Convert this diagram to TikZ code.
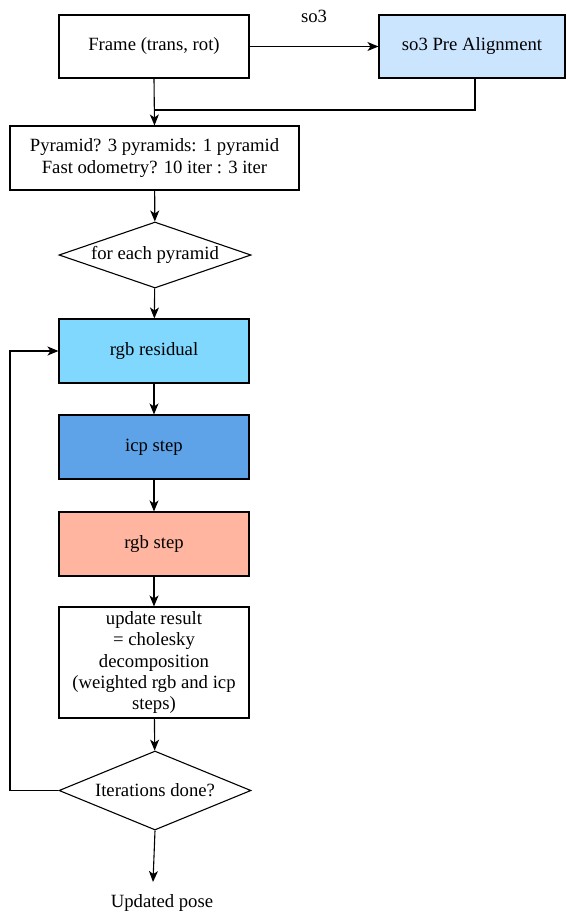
\documentclass[tikz,border=0pt]{standalone}
\usepackage{fontspec}
\setmainfont{Liberation Serif}
\usetikzlibrary{shapes.geometric,arrows.meta}

\definecolor{prealign}{RGB}{204,229,255}
\definecolor{residual}{RGB}{128,216,255}
\definecolor{icpblue}{RGB}{94,163,232}
\definecolor{rgbsalmon}{RGB}{255,181,159}

\begin{document}
\begin{tikzpicture}[
	x=1pt, y=-1pt,
	font=\fontsize{18.7}{21.3}\selectfont,
	line width=1.1pt,
	block/.style={draw, rectangle, minimum width=190pt, minimum height=63pt, inner sep=2pt, align=center},
	decision/.style={draw, diamond, aspect=2.9, minimum width=192pt, minimum height=66pt, inner sep=0pt, align=center},
	flow/.style={-{Stealth[length=11pt,width=9pt,inset=3pt]}}
]
	\useasboundingbox (0,0) rectangle (566,913);

	\node[block] (frame) at (154,46.5) {Frame (trans, rot)};
	\node[block, fill=prealign, minimum width=186pt] (prealign) at (472,46.5) {so3 Pre Alignment};
	\node (solabel) at (314,16) {so3};
	\node[block, minimum width=289pt, minimum height=64pt] (pyramid) at (154.5,158) {Pyramid? 3 pyramids: 1 pyramid\\Fast odometry? 10 iter : 3 iter};
	\node[decision] (eachpyr) at (155,255) {for each pyramid};
	\node[block, fill=residual, minimum height=64pt] (rgbres) at (154,351) {rgb residual};
	\node[block, fill=icpblue, minimum height=64pt] (icp) at (154,447) {icp step};
	\node[block, fill=rgbsalmon, minimum height=64pt] (rgbstep) at (154,544) {rgb step};
	\node[block, minimum height=111pt] (update) at (154,662.5) {update result\\= cholesky\\decomposition\\(weighted rgb and icp\\steps)};
	\node[decision, minimum height=79pt, aspect=2.43] (itdone) at (155,790.5) {Iterations done?};
	\node (pose) at (162,903) {Updated pose};

	\coordinate (join) at (155,110);
	\coordinate (poseend) at (153,882);
	\coordinate (loopleft) at (10,790.5);

	% main chain
	\draw[flow] (frame) -- (prealign);
	\draw (prealign.south -| 475,0) |- (join);
	\draw[flow] (frame.south) -- (pyramid.north);
	\draw[flow] (pyramid) -- (eachpyr);
	\draw[flow] (eachpyr) -- (rgbres);
	\draw[flow] (rgbres) -- (icp);
	\draw[flow] (icp) -- (rgbstep);
	\draw[flow] (rgbstep) -- (update);
	\draw[flow] (update) -- (itdone);
	\draw[flow] (itdone.south) -- (poseend);
	% loop back
	\draw[flow] (itdone.west) -- (loopleft) |- (rgbres.west);
\end{tikzpicture}
\end{document}
